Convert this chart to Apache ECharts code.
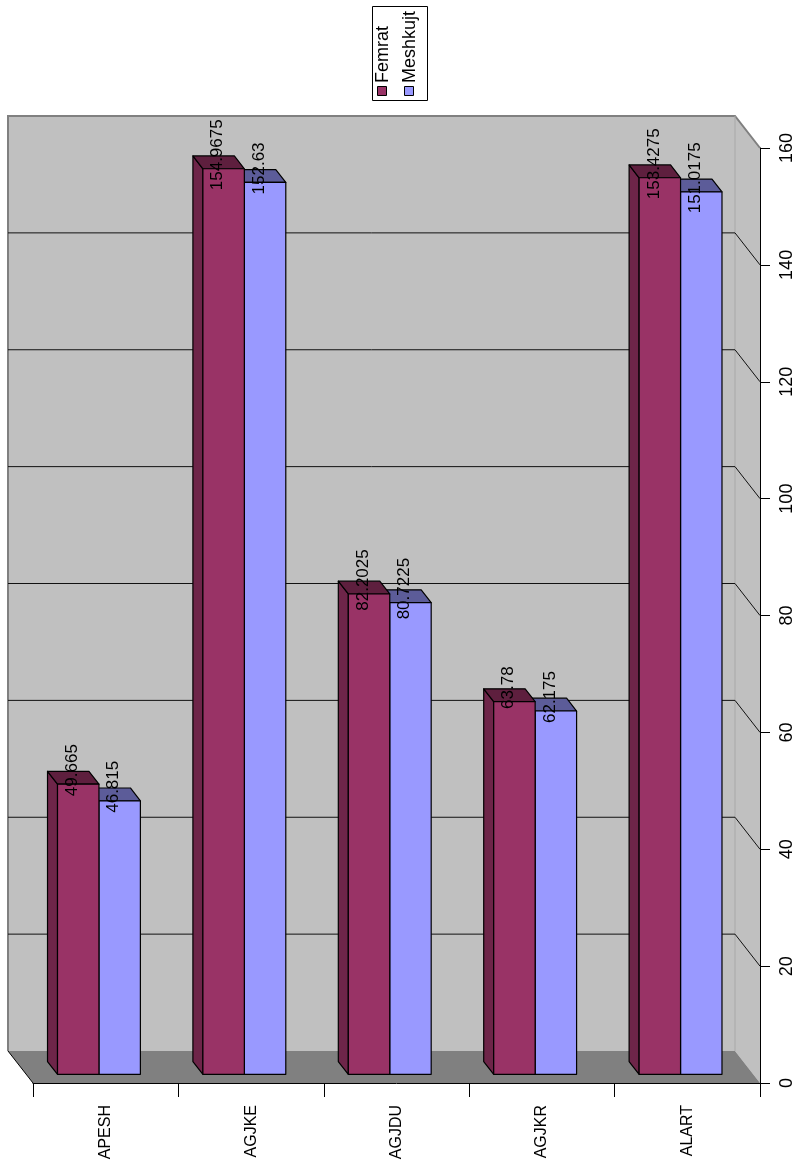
<!DOCTYPE html>
<html>
<head>
<meta charset="utf-8">
<script src="https://cdn.jsdelivr.net/npm/echarts@6/dist/echarts.min.js"></script>
<style>
html, body { margin: 0; padding: 0; background: #fff; }
#main { width: 796px; height: 1163px; }
</style>
</head>
<body>
<div id="main"></div>
<script>
var categories = ['APESH', 'AGJKE', 'AGJDU', 'AGJKR', 'ALART'];
var femrat = [49.665, 154.9675, 82.2025, 63.78, 153.4275];
var meshkujt = [46.815, 152.63, 80.7225, 62.175, 151.0175];
var seriesNames = ['Femrat', 'Meshkujt'];
var gridTicks = [20, 40, 60, 80, 100, 120, 140];

// 3d depth of the box
var DX = -25, DY = -32;
var BAR_FRONT = 0.27, BAR_BACK = 0.67;
var FONT = '"Liberation Sans", Arial, sans-serif';

var colFem = { front: '#993366', side: '#6E2549', top: '#5E1F3E' };
var colMesh = { front: '#9999FF', side: '#7373BF', top: '#5C5C99' };

function wallItem(params, api) {
    var cs = params.coordSys;
    var x0 = cs.x, x1 = cs.x + cs.width;
    var yTop = api.coord([0, 160])[1], yBot = api.coord([0, 0])[1];
    return {
        type: 'group',
        children: [
            { type: 'rect', shape: { x: x0 + DX, y: yTop + DY, width: cs.width, height: yBot - yTop },
              style: { fill: '#C0C0C0', stroke: null } },
            { type: 'polygon', shape: { points: [[x1 + DX, yTop + DY], [x1, yTop], [x1, yBot], [x1 + DX, yBot + DY]] },
              style: { fill: '#C0C0C0', stroke: null } },
            { type: 'polygon', shape: { points: [[x0 + DX, yBot + DY], [x1 + DX, yBot + DY], [x1, yBot], [x0, yBot]] },
              style: { fill: '#808080', stroke: null } },
            { type: 'polyline', shape: { points: [[x0 + DX, yBot + DY], [x0 + DX, yTop + DY], [x1 + DX, yTop + DY], [x1, yTop]] },
              style: { stroke: '#808080', lineWidth: 2, fill: null } },
            { type: 'line', shape: { x1: x1 + DX, y1: yTop + DY, x2: x1 + DX, y2: yBot + DY },
              style: { stroke: '#A8A8A8', lineWidth: 1 } },
            { type: 'line', shape: { x1: x0 + DX, y1: yBot + DY, x2: x0, y2: yBot },
              style: { stroke: '#000', lineWidth: 1 } }
        ]
    };
}

function gridItem(params, api) {
    var cs = params.coordSys;
    var x0 = cs.x, x1 = cs.x + cs.width;
    var y = api.coord([0, api.value(0)])[1];
    return {
        type: 'polyline',
        shape: { points: [[x0 + DX, y + DY], [x1 + DX, y + DY], [x1, y]] },
        style: { stroke: '#111', lineWidth: 1, fill: null }
    };
}

function barItem(side, col) {
    return function (params, api) {
        var idx = api.value(0), v = api.value(1);
        var band = api.size([1, 0])[0];
        var w = band * 0.285;
        var p = api.coord([idx, v]);
        var p0 = api.coord([idx, 0]);
        var fx = DX * BAR_FRONT, fy = DY * BAR_FRONT;
        var bx = DX * (BAR_BACK - BAR_FRONT), by = DY * (BAR_BACK - BAR_FRONT);
        var x0 = p[0] + fx + (side < 0 ? -w : 0);
        var x1 = x0 + w;
        var yt = p[1] + fy, yb = p0[1] + fy;
        var st = { stroke: '#000', lineWidth: 1.2, lineJoin: 'round' };
        return {
            type: 'group',
            children: [
                { type: 'polygon', shape: { points: [[x0, yt], [x0 + bx, yt + by], [x0 + bx, yb + by], [x0, yb]] },
                  style: Object.assign({ fill: col.side }, st) },
                { type: 'polygon', shape: { points: [[x0, yt], [x1, yt], [x1 + bx, yt + by], [x0 + bx, yt + by]] },
                  style: Object.assign({ fill: col.top }, st) },
                { type: 'rect', shape: { x: x0, y: yt, width: w, height: yb - yt },
                  style: Object.assign({ fill: col.front }, st) },
                { type: 'text', x: x0 + w / 2 - 6, y: yt - 14, rotation: Math.PI / 2, z2: 10,
                  style: { text: String(v), font: '17px ' + FONT, fill: '#000', align: 'center', verticalAlign: 'middle' } }
            ]
        };
    };
}

function legendGraphic() {
    var items = [];
    items.push({ type: 'rect', shape: { x: 372.5, y: 6.5, width: 55, height: 94 },
                 style: { fill: '#fff', stroke: '#000', lineWidth: 1 } });
    var cols = [colFem.front, colMesh.front];
    var xs = [383, 410];
    for (var i = 0; i < seriesNames.length; i++) {
        items.push({ type: 'rect', shape: { x: xs[i] - 5.5, y: 86.5, width: 9, height: 9 },
                     style: { fill: cols[i], stroke: '#000', lineWidth: 1 } });
        items.push({ type: 'text', x: xs[i], y: 83, rotation: Math.PI / 2,
                     style: { text: seriesNames[i], font: '18px ' + FONT, fill: '#000', align: 'left', verticalAlign: 'middle' } });
    }
    return items;
}

var chart = echarts.init(document.getElementById('main'));

var option = {
    animation: false,
    backgroundColor: '#fff',
    grid: { left: 33, right: 36, top: 148, bottom: 80, outerBoundsMode: 'none', containLabel: false },
    xAxis: {
        type: 'category',
        data: categories,
        z: 10,
        axisLine: { show: true, lineStyle: { color: '#000', width: 1 } },
        axisTick: { show: true, length: 14, lineStyle: { color: '#000' } },
        axisLabel: { rotate: 90, margin: 22, color: '#000', fontSize: 16, fontFamily: FONT },
        splitLine: { show: false }
    },
    yAxis: {
        type: 'value',
        position: 'right',
        min: 0, max: 160, interval: 20,
        z: 10,
        axisLine: { show: true, lineStyle: { color: '#000', width: 1 } },
        axisTick: { show: true, length: 10, lineStyle: { color: '#000' } },
        axisLabel: { rotate: 90, margin: 18, color: '#000', fontSize: 18, fontFamily: FONT },
        splitLine: { show: false }
    },
    graphic: legendGraphic(),
    series: [
        { type: 'custom', name: 'walls', z: 1, renderItem: wallItem, data: [[0, 0]], silent: true },
        { type: 'custom', name: 'grid', z: 2, renderItem: gridItem,
          data: gridTicks.map(function (t) { return [t]; }), encode: { y: 0 }, silent: true },
        { type: 'custom', name: seriesNames[1], z: 3, renderItem: barItem(1, colMesh),
          data: meshkujt.map(function (v, i) { return [i, v]; }) },
        { type: 'custom', name: seriesNames[0], z: 4, renderItem: barItem(-1, colFem),
          data: femrat.map(function (v, i) { return [i, v]; }) }
    ]
};

chart.setOption(option);
</script>
</body>
</html>
